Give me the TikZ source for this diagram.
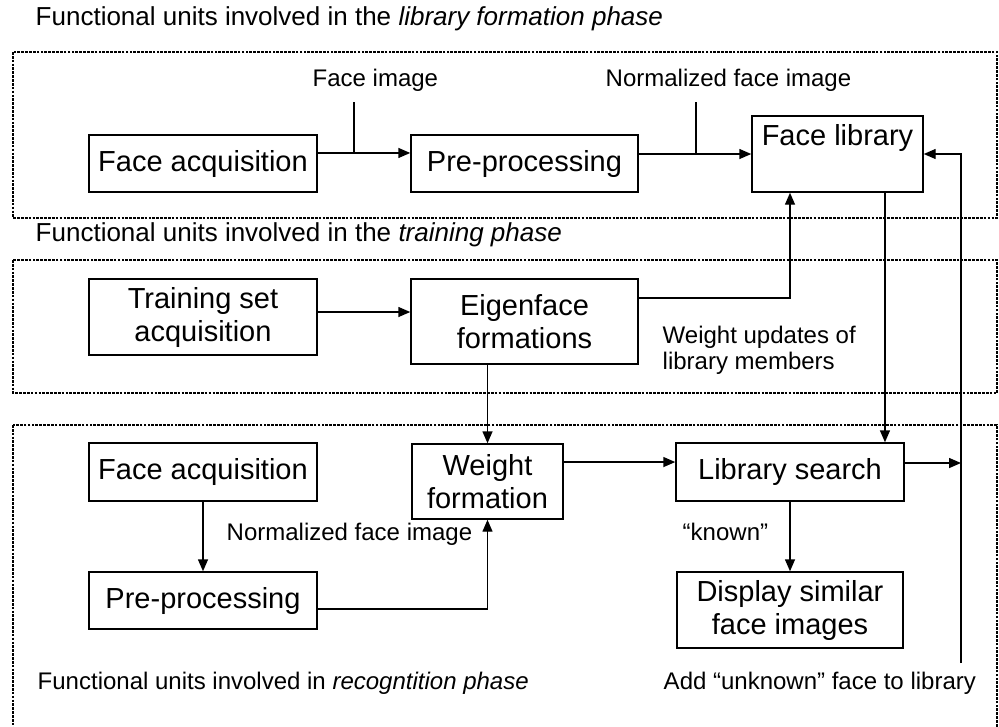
\documentclass[tikz,border=0pt]{standalone}
\usepackage{fontspec}
\setmainfont{Liberation Sans}
\usetikzlibrary{arrows.meta,positioning}

\begin{document}
\begin{tikzpicture}[x=0.75pt, y=-0.75pt, >={Triangle[length=9pt,width=7.5pt]}, line width=1.1pt,
  box/.style={draw, align=center, inner sep=0pt, font=\fontsize{21.75}{24.75}\selectfont},
  note/.style={anchor=base west, inner sep=0pt, align=left, font=\fontsize{18}{19.5}\selectfont},
  head/.style={anchor=base west, inner sep=0pt, font=\fontsize{19.5}{22}\selectfont},
  frame/.style={line width=1.8pt, dash pattern=on 2pt off 0.9pt}]
  \useasboundingbox (0,0) rectangle (999,726);
  \clip (0,0) rectangle (999,726);

  % the three phase frames
  \draw[frame] (13,52) rectangle (997,218);
  \draw[frame] (13,260) rectangle (997,393);
  \draw[frame] (13,425) rectangle (997,745);
  \node[head] (hlib) at (35,25) {Functional units involved in the \textit{library formation phase}};
  \node[head] (htrain) at (35,241) {Functional units involved in the \textit{training phase}};
  \node[note] (hrec) at (37,689) {Functional units involved in \textit{recogntition phase}};

  % library formation
  \node[box, minimum width=171pt, minimum height=42.75pt] (facq1) at (203,163.5) {Face acquisition};
  \node[box, minimum width=170.25pt, minimum height=42.75pt] (pre1) at (524.5,163.5) {Pre-processing};
  \node[box, minimum width=128.25pt, text height=21.75pt, text depth=35.25pt, inner ysep=0pt] (lib) at (837.5,154) {Face library};
  \node[note] (fimg) at (312,86) {Face image};
  \node[note] (nfimg) at (605,86) {Normalized face image};
  \draw[->] ([yshift=7.9pt]facq1.east) -- ([yshift=7.9pt]pre1.west);
  \draw[->] (pre1.east |- lib.west) -- (lib.west);
  \coordinate (tk1) at (354,102);
  \coordinate (tk2) at (696,102);
  \draw (tk1) -- (tk1 |- lib.west);
  \draw (tk2) -- (tk2 |- lib.west);

  % training
  \node[box, minimum width=171pt, minimum height=57pt] (train) at (203,317) {Training set\\acquisition};
  \node[box, minimum width=170.25pt, minimum height=63.75pt] (eigen) at (524.5,321.5) {Eigenface\\formations};
  \node[note, anchor=north west] (wupd) at (662,325) {Weight updates of\\library members};
  \coordinate (tout) at ([yshift=3.75pt]train.east);
  \coordinate (eout) at ([yshift=17.6pt]eigen.east);
  \draw[->] (tout) -- (eigen.west |- tout);
  \draw[->] (eout) -| (lib.south -| 790,0);

  % recognition
  \node[box, minimum width=171pt, minimum height=43.5pt] (facq2) at (203,472) {Face acquisition};
  \node[box, minimum width=171pt, minimum height=42.75pt] (pre2) at (203,600.5) {Pre-processing};
  \node[box, minimum width=113.25pt, minimum height=56.25pt] (weight) at (487.5,481.5) {Weight\\formation};
  \node[box, minimum width=171pt, minimum height=43.5pt] (search) at (790,472) {Library search};
  \node[box, minimum width=169.5pt, minimum height=57pt] (disp) at (790,610) {Display similar\\face images};
  \node[note] (nfimg2) at (226,540) {Normalized face image};
  \node[note] (known) at (682,540) {“known”};
  \node[note] (unknown) at (663,689) {Add “unknown” face to library};
  \coordinate (drop) at ([xshift=35.6pt]lib.south);
  \coordinate (ret) at (961,663);
  \coordinate (wout) at ([yshift=14.6pt]weight.east);
  \coordinate (sout) at ([yshift=6.75pt]search.east);
  \draw[->] (drop) -- (drop |- search.north);
  \draw[->] (weight.north |- eigen.south) -- (weight.north);
  \draw[->] (facq2.south) -- (pre2.north);
  \draw[->] ([yshift=-6.4pt]pre2.east) -| (weight.south);
  \draw[->] (wout) -- (search.west |- wout);
  \draw[->] (sout) -- (ret |- sout);
  \draw[->] (search.south) -- (disp.north);
  \draw[->] (ret) |- (lib.east);
\end{tikzpicture}
\end{document}
